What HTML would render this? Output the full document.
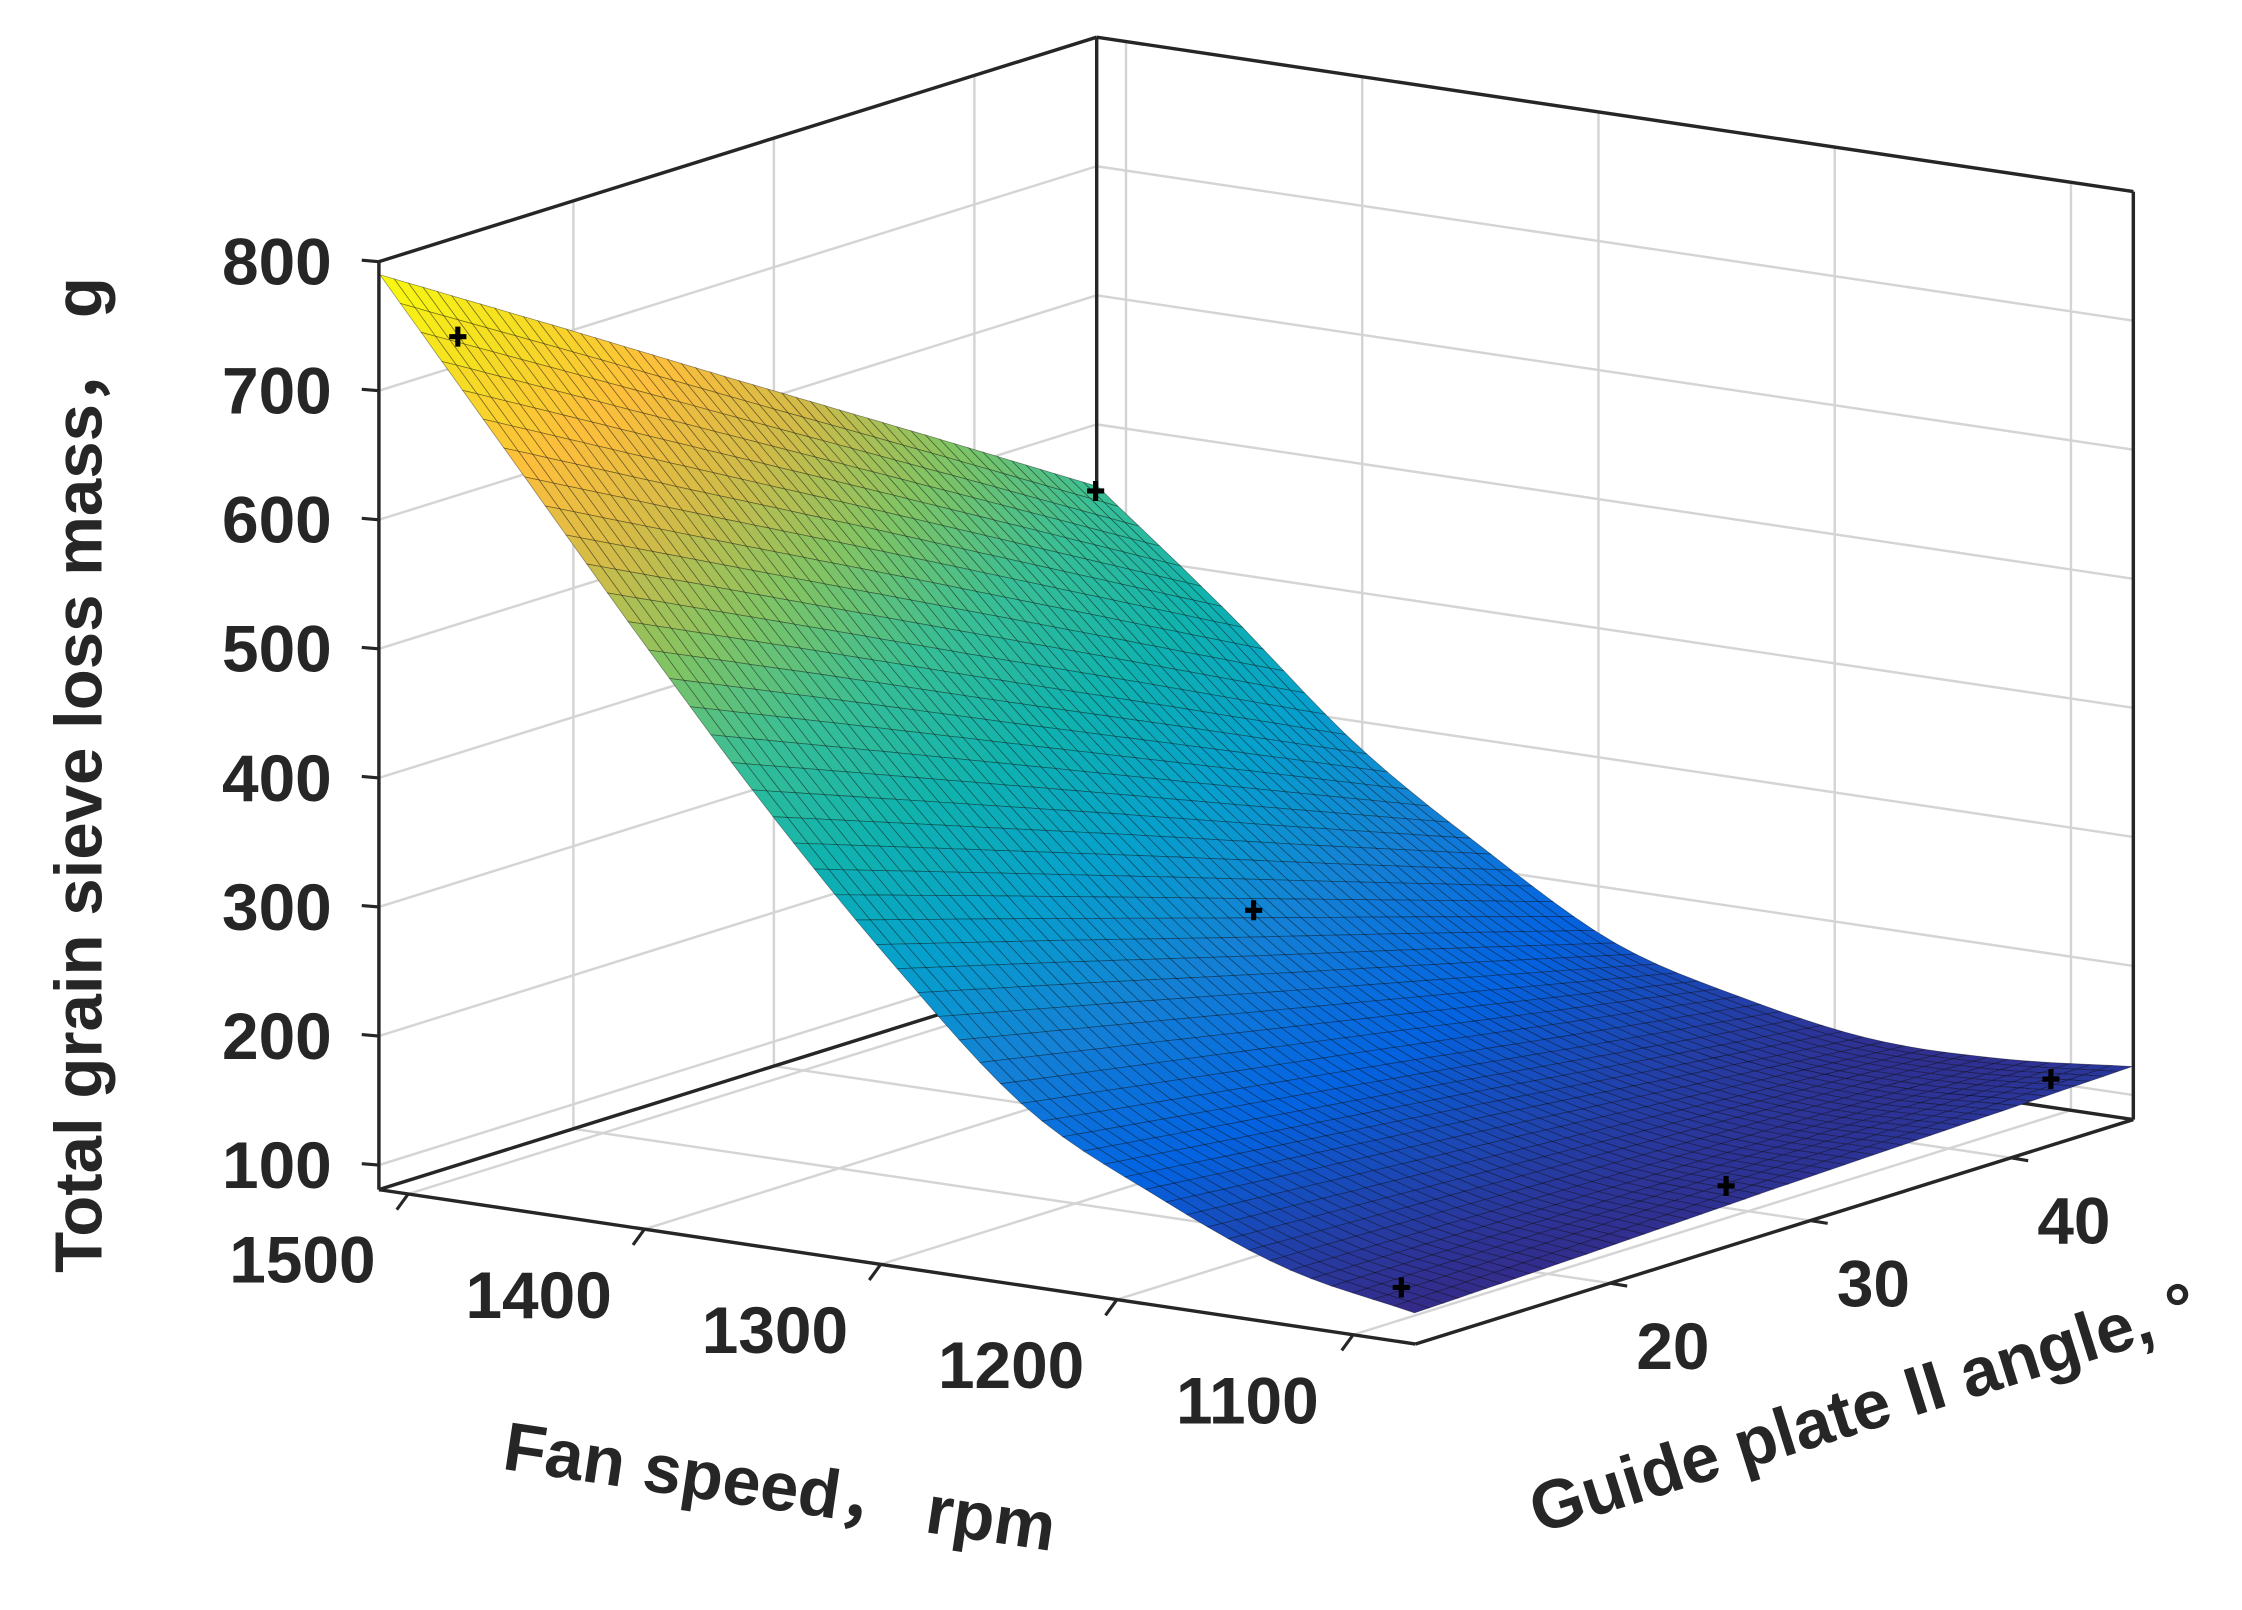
<!DOCTYPE html>
<html><head><meta charset="utf-8"><style>
html,body{margin:0;padding:0;background:#fff;}
svg{display:block;}
text{font-family:"Liberation Sans",Arial,sans-serif;font-weight:bold;fill:#262626;}
</style></head><body>
<svg id="chart" width="2242" height="1610" viewBox="0 0 1568 1126" xmlns="http://www.w3.org/2000/svg">
<g id="grid"></g>
<g id="box"></g>
<g id="surf"></g>
<g id="pts"></g>
<g id="ticks"></g>
<text x="0" y="0" font-size="47" text-anchor="middle" transform="translate(71,542) rotate(-90)">Total grain sieve loss mass， g</text>
<text x="0" y="0" font-size="48" text-anchor="middle" transform="translate(543,1056) rotate(8.5)">Fan speed， rpm</text>
<text x="0" y="0" font-size="48" text-anchor="middle" transform="translate(1308,1000) rotate(-17.4)">Guide plate II angle, °</text>
</svg>
<script>
// ---- data ----
const fanGrid = [1074, 1129, 1184, 1238, 1293, 1348, 1403, 1458, 1512];
const angleGrid = [10.3, 19.25, 28.2, 37.15, 46.1];
const lossGrid = [
  [105,109,114,118,122],
  [125,122,119,116,113],
  [166,153,140,126,113],
  [219,197,175,152,130],
  [312,274,235,197,158],
  [420,369,318,266,215],
  [540,476,411,347,282],
  [665,591,518,444,370],
  [790,706,621,537,452]
];
const ptFan = [1479, 1512, 1300, 1100, 1100, 1100];
const ptAngle = [10.3, 46.0, 28.9, 12.7, 28.9, 45.1];
const ptLoss = [751, 449, 265, 106, 106, 110];
const zTicks = [100,200,300,400,500,600,700,800];
const fanTicks = [1100,1200,1300,1400,1500];
const angleTicks = [20,30,40];

// ---- axes ----
const F0=1073.6, F1=1512.4, G0=10.3, G1=46.1, Z0=81, Z1=800;
function P(f,g,z){
  const u=(f-F0)/(F1-F0), v=(g-G0)/(G1-G0), w=(z-Z0)/(Z1-Z0);
  return [990-725*u+502*v, 940-108*u-157*v-649*w];
}
const NS='http://www.w3.org/2000/svg';
function mk(tag,attrs,parent){const e=document.createElementNS(NS,tag);for(const k in attrs)e.setAttribute(k,attrs[k]);parent.appendChild(e);return e;}
function line(a,b,stroke,sw,parent,name){
  const e=mk('line',{x1:a[0],y1:a[1],x2:b[0],y2:b[1],stroke:stroke,'stroke-width':sw},parent);
  
  
  return e;
}
const grid=document.getElementById('grid'), box=document.getElementById('box');
const GC='#d4d4d4';
zTicks.forEach(z=>{
  line(P(F1,G0,z),P(F1,G1,z),GC,1.7,grid,'z-gridline-left-wall');
  line(P(F1,G1,z),P(F0,G1,z),GC,1.7,grid,'z-gridline-right-wall');
});
angleTicks.forEach(g=>{
  line(P(F1,g,Z0),P(F1,g,Z1),GC,1.7,grid,'angle-gridline-wall');
  line(P(F1,g,Z0),P(F0,g,Z0),GC,1.7,grid,'angle-gridline-floor');
});
fanTicks.forEach(f=>{
  line(P(f,G1,Z0),P(f,G1,Z1),GC,1.7,grid,'fan-gridline-wall');
  line(P(f,G1,Z0),P(f,G0,Z0),GC,1.7,grid,'fan-gridline-floor');
});
const BC='#262626';
[[P(F1,G0,Z0),P(F1,G0,Z1)],[P(F1,G0,Z0),P(F0,G0,Z0)],[P(F0,G0,Z0),P(F0,G1,Z0)],
 [P(F0,G1,Z0),P(F0,G1,Z1)],[P(F1,G1,Z0),P(F1,G1,Z1)],[P(F1,G0,Z1),P(F1,G1,Z1)],
 [P(F1,G1,Z1),P(F0,G1,Z1)],[P(F1,G0,Z0),P(F1,G1,Z0)],[P(F1,G1,Z0),P(F0,G1,Z0)]]
 .forEach(s=>line(s[0],s[1],BC,2.4,box,'box-edge'));

// ---- surface ----
const stops=[[0,[53,42,135]],[0.1,[3,99,225]],[0.2,[20,129,214]],[0.3,[6,160,205]],[0.4,[15,178,175]],[0.5,[55,190,150]],[0.6,[128,196,100]],[0.7,[209,187,72]],[0.8,[253,190,60]],[0.9,[245,222,34]],[1,[249,251,14]]];
const zmin=105, zmax=790;
function col(z){
  let t=Math.max(0,Math.min(1,(z-zmin)/(zmax-zmin)));
  for(let i=1;i<stops.length;i++){
    if(t<=stops[i][0]){const a=stops[i-1],b=stops[i];const s=(t-a[0])/(b[0]-a[0]);
      const c=a[1].map((x,k)=>Math.round(x+(b[1][k]-x)*s));return 'rgb('+c.join(',')+')';}
  }
  return 'rgb(249,251,14)';
}
function colAt(j,i){const n=lossGrid.length;return lossGrid[Math.max(0,Math.min(n-1,i))][j];}
function zAt(s,t){ // smooth sampling of grid for drawing
  const nf=lossGrid.length-1, ng=angleGrid.length-1;
  const a=s*nf, b=t*ng;
  const i=Math.min(Math.floor(a),nf-1), j=Math.min(Math.floor(b),ng-1);
  const fs=a-i, ft=b-j;
  function cr(jj){
    const p0=colAt(jj,i-1),p1=colAt(jj,i),p2=colAt(jj,i+1),p3=colAt(jj,i+2);
    const q0=(i-1<0)?2*p1-p2:p0, q3=(i+2>nf)?2*p2-p1:p3;
    const x=fs;
    return 0.5*((2*p1)+(-q0+p2)*x+(2*q0-5*p1+4*p2-q3)*x*x+(-q0+3*p1-3*p2+q3)*x*x*x);
  }
  return (1-ft)*cr(j)+ft*cr(j+1);
}
const surf=document.getElementById('surf');
const NU=50, NV=50, cells=[];
for(let i=0;i<NU;i++)for(let j=0;j<NV;j++)cells.push([i,j]);
cells.sort((a,b)=>(b[0]+b[1])-(a[0]+a[1]));
const fAt=s=>fanGrid[0]+(fanGrid[fanGrid.length-1]-fanGrid[0])*s;
const gAt=s=>angleGrid[0]+(angleGrid[angleGrid.length-1]-angleGrid[0])*s;
cells.forEach(([i,j])=>{
  const c=[[i,j],[i+1,j],[i+1,j+1],[i,j+1]].map(([a,b])=>{const s=a/NU,t=b/NV;return [fAt(s),gAt(t),zAt(s,t)];});
  const pts=c.map(p=>P(p[0],p[1],p[2]).map(v=>v.toFixed(1)).join(',')).join(' ');
  const zm=(c[0][2]+c[1][2]+c[2][2]+c[3][2])/4;
  const e=mk('polygon',{points:pts,fill:col(zm),stroke:'rgba(0,0,0,0.4)','stroke-width':0.55},surf);
  
  
});

// ---- points ----
const ptsG=document.getElementById('pts');
ptFan.forEach((f,k)=>{
  const p=P(f,ptAngle[k],ptLoss[k]);
  const e=mk('path',{d:`M${p[0]-6},${p[1]}h12M${p[0]},${p[1]-7}v14`,stroke:'#000','stroke-width':3.6},ptsG);
  
  
});

// ---- ticks & labels ----
const tk=document.getElementById('ticks');
zTicks.forEach(z=>{
  const p=P(F1,G0,z);
  line(p,[p[0]-12,p[1]-1],BC,2.2,tk,'z-tick');
  const t=mk('text',{x:p[0]-33,y:p[1]+16,'font-size':46,'text-anchor':'end'},tk);
  t.textContent=z;
  
  
});
fanTicks.forEach(f=>{
  const p=P(f,G0,Z0);
  line(p,[p[0]-8,p[1]+11],BC,2.2,tk,'fan-tick');
  const t=mk('text',{x:p[0]-74,y:p[1]+62,'font-size':46,'text-anchor':'middle'},tk);
  t.textContent=f;
  
  
});
angleTicks.forEach(g=>{
  const p=P(F0,g,Z0);
  line(p,[p[0]+12,p[1]+2],BC,2.2,tk,'angle-tick');
  const t=mk('text',{x:p[0]+44,y:p[1]+60,'font-size':46,'text-anchor':'middle'},tk);
  t.textContent=g;
  
  
});
</script>
</body></html>
